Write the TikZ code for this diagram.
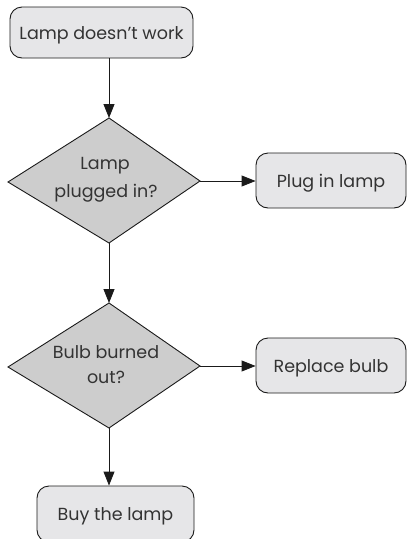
\documentclass[tikz,border=0pt]{standalone}
\usepackage{fontspec}
\setmainfont{Poppins}
\usetikzlibrary{arrows.meta}
\definecolor{boxfill}{HTML}{E6E6E8}
\definecolor{dmdfill}{HTML}{CDCDCD}
\definecolor{inkline}{HTML}{1A1A1A}
\definecolor{inktext}{HTML}{333333}
\tikzset{
  txt/.style={font=\fontsize{17.5}{20}\selectfont, text=inktext},
  stepbox/.style={draw=inkline, line width=0.9pt, fill=boxfill, rounded corners=12pt,
    txt, inner sep=0pt, text height=13pt, text depth=0pt, align=center},
  dmd/.style={draw=inkline, line width=0.9pt, fill=dmdfill, line join=miter},
  conn/.style={draw=inkline, line width=0.9pt, -{Triangle[length=14pt,width=11pt]}},
}
\begin{document}
\begin{tikzpicture}[x=1pt,y=-1pt]
\useasboundingbox (0,0) rectangle (407,539);
% boxes
\node[stepbox, minimum width=183pt, minimum height=51pt] (b1) at (101.5,32.5) {Lamp doesn’t work};
\node[stepbox, minimum width=150pt, minimum height=55pt] (b2) at (331,180.5) {Plug in lamp};
\node[stepbox, minimum width=150pt, minimum height=55pt] (b3) at (331,365.5) {Replace bulb};
\node[stepbox, minimum width=157pt, minimum height=56pt] (b4) at (115.5,514) {Buy the lamp};
% diamond 1
\coordinate (d1t) at (109,118);
\coordinate (d1r) at (200,181);
\coordinate (d1b) at (109,243);
\coordinate (d1l) at (8,182);
\path[dmd] (d1t) -- (d1r) -- (d1b) -- (d1l) -- cycle;
\node[txt, anchor=base] (d1a) at (105,169) {Lamp};
\node[txt, anchor=base] (d1c) at (106,197) {plugged in?};
% diamond 2
\coordinate (d2t) at (109,303);
\coordinate (d2r) at (200,366);
\coordinate (d2b) at (109,428);
\coordinate (d2l) at (8,367);
\path[dmd] (d2t) -- (d2r) -- (d2b) -- (d2l) -- cycle;
\node[txt, anchor=base] (d2a) at (106,358) {Bulb burned};
\node[txt, anchor=base] (d2c) at (106,383) {out?};
% connectors
\draw[conn] (b1.south -| d1t) -- (d1t);
\draw[conn] (d1r) -- (d1r -| b2.west);
\draw[conn] (d1b) -- (d2t);
\draw[conn] (d2r) -- (d2r -| b3.west);
\draw[conn] (d2b) -- (d2b |- b4.north);
\end{tikzpicture}
\end{document}
